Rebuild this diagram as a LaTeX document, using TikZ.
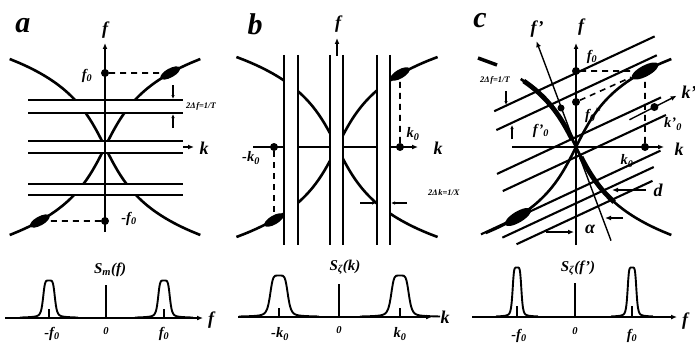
\documentclass[tikz,border=0pt]{standalone}
\usepackage{fontspec}
\setmainfont{Liberation Serif}
\usepackage{tikz}
\usetikzlibrary{positioning,arrows.meta,calc,shapes.geometric}

\tikzset{
  branch/.style={line width=2.6pt},
  thickbranch/.style={line width=4.8pt},
  strip/.style={line width=2.1pt},
  axisline/.style={line width=1.4pt},
  specline/.style={line width=2pt},
  guide/.style={line width=1.6pt,dash pattern=on 6pt off 5pt},
  dot/.style={circle,fill,inner sep=0pt,minimum size=8pt},
  blob/.style={ellipse,fill,inner sep=0pt,minimum width=22pt,minimum height=9pt},
  bigblob/.style={blob,minimum width=30pt,minimum height=11pt},
  lab/.style={inner sep=0pt,font=\bfseries\itshape\fontsize{14.5}{14.5}\selectfont},
  speclab/.style={inner sep=0pt,font=\bfseries\itshape\fontsize{15}{15}\selectfont},
  zerolab/.style={inner sep=0pt,font=\bfseries\itshape\fontsize{10.5}{10.5}\selectfont},
  axlab/.style={inner sep=0pt,font=\bfseries\itshape\fontsize{18}{18}\selectfont},
  smalllab/.style={inner sep=0pt,font=\bfseries\itshape\fontsize{8.5}{8.5}\selectfont},
  panel/.style={inner sep=0pt,font=\bfseries\itshape\fontsize{30}{30}\selectfont},
  peak/.style={line width=1.9pt,line join=round},
  small arrow/.style={line width=1.1pt,-{Latex[length=4pt,width=3.5pt]}},
}
\newcommand{\zs}[1]{\textsubscript{#1}}

\begin{document}
\begin{tikzpicture}[x=1pt,y=-1pt,>={Latex[length=6pt,width=5pt]}]
  \useasboundingbox (0,0) rectangle (695,353);

  % a
  \draw[branch] plot[smooth,domain=-88:88,samples=45] ({105+19*sinh(\x/38)},{147-(\x)});
  \draw[branch] plot[smooth,domain=-88:88,samples=45] ({105-19*sinh(\x/38)},{147-(\x)});
  \draw[axisline,->] (28,147) -- (194,147);
  \foreach \ya/\yb in {100/113,141/153,184/195}{
    \fill[white] (28,\ya) rectangle (183,\yb);
    \draw[strip] (28,\ya) -- (183,\ya) (28,\yb) -- (183,\yb);
  }
  \draw[axisline,->] (105,232) -- (105,43);
  \node[dot] (fa) at (105,73) {};
  \node[dot] (mfa) at (105,221) {};
  \node[blob,rotate=29] (ba) at (170.2,73) {};
  \node[blob,rotate=29] (mba) at (39.8,221) {};
  \draw[guide] (fa) -- (ba);
  \draw[guide] (mfa) -- (mba);
  \draw[small arrow] (173,85) -- (173,99);
  \draw[small arrow] (173,128) -- (173,114);
  \node[panel] (pa) at (23,26) {a};
  \node[axlab] (fla) at (105,30) {f};
  \node[axlab] (kla) at (204,148) {k};
  \node[lab] (f0a) at (87,76) {f\zs{0}};
  \node[lab] (mf0a) at (129,219) {-f\zs{0}};
  \node[smalllab,anchor=west] (dfa) at (186,106) {2Δ\kern.5pt f=1/T};

  % b
  \draw[branch] plot[smooth,domain=-90:90,samples=45] ({337+19*sinh(\x/38)},{147-(\x)});
  \draw[branch] plot[smooth,domain=-90:90,samples=45] ({337-19*sinh(\x/38)},{147-(\x)});
  \draw[axisline,->] (253,147) -- (418,147);
  \foreach \xa/\xb in {284/298,330/343,377/390}{
    \fill[white] (\xa,55) rectangle (\xb,245);
    \draw[strip] (\xa,55) -- (\xa,245) (\xb,55) -- (\xb,245);
  }
  \draw[axisline,->] (337,56) -- (337,38);
  \node[dot] (kb) at (400,147) {};
  \node[dot] (mkb) at (274,147) {};
  \node[blob,rotate=30] (bb) at (400,74) {};
  \node[blob,rotate=30] (mbb) at (274,220) {};
  \draw[guide] (kb) -- (bb);
  \draw[guide] (mkb) -- (mbb);
  \draw[small arrow] (360,203) -- (376,203);
  \draw[small arrow] (407,203) -- (391,203);
  \node[panel] (pb) at (255,24) {b};
  \node[axlab] (flb) at (338,24) {f};
  \node[axlab] (klb) at (438,148) {k};
  \node[lab] (k0b) at (413,134) {k\zs{0}};
  \node[lab] (mk0b) at (251,158) {-k\zs{0}};
  \node[smalllab,anchor=west] (dkb) at (428,193) {2Δ\kern.5pt k=1/X};

  % c
  \draw[branch] plot[smooth,domain=-86:88,samples=45] ({576+19*sinh(\x/38)},{147-(\x)});
  \draw[branch] plot[smooth,domain=-88:68,samples=45] ({576-19*sinh(\x/38)},{147-(\x)});
  \draw[thickbranch] plot[smooth,domain=8:66,samples=21] ({576-19*sinh(\x/38)},{147-(\x)});
  \draw[thickbranch] plot[smooth,domain=-55:-10,samples=21] ({576-19*sinh(\x/38)},{147-(\x)});
  \begin{scope}[shift={(576,147)},rotate=25]
    \foreach \v/\ua/\ub in {-67/-59/118,-49/-65/112,-9/-83/98,9/-85/95,39/-123/75,51/-105/62,63/-95/55}
      \draw[strip] (\ua,\v) -- (\ub,\v);
  \end{scope}
  \begin{scope}[shift={(576,147)},rotate=27]
    \draw[axisline,->] (60,0) -- (113,0);
    \node[dot] (kpc) at (88,0) {};
  \end{scope}
  \begin{scope}[shift={(576,147)},rotate=20.5]
    \draw[axisline,->] (0,100) -- (0,-113);
  \end{scope}
  \draw[axisline,->] (512,147) -- (664,147);
  \draw[axisline,->] (576,245) -- (576,43);
  \node[dot] (fc) at (576,71) {};
  \node[dot] (fsc) at (576,102) {};
  \node[dot,minimum size=7pt] (fpc) at (561,108) {};
  \node[dot] (kc) at (645,147) {};
  \node[bigblob,rotate=28] (bc) at (645,71) {};
  \node[bigblob,rotate=31] (mbc) at (518,217) {};
  \draw[guide] (fc) -- (bc);
  \draw[guide] (kc) -- (bc);
  \draw[guide] (fsc) -- (bc);
  \draw[line width=3.5pt] (478,58) -- (497,65);
  \draw[small arrow] (506,91) -- (506,105);
  \draw[small arrow] (512,139) -- (512,125);
  \draw[->,line width=1.2pt] (646,190) -- (612,190);
  \draw[->,line width=1.2pt] (546,232) -- (574,232);
  \draw[->,line width=1.2pt] (623,218) -- (605,218);
  \node[panel] (pc) at (480,21) {c};
  \node[axlab] (fpl) at (537,29) {f'};
  \node[axlab] (flc) at (581,27) {f};
  \node[axlab] (klc) at (679,149) {k};
  \node[axlab] (kpl) at (689,92) {k'};
  \node[lab] (f0c) at (592,57) {f\zs{0}};
  \node[lab] (fs0c) at (593,115) {f\zs{0}\textsuperscript{*}};
  \node[lab] (fp0c) at (541,131) {f'\zs{0}};
  \node[lab] (kp0c) at (673,124) {k'\zs{0}};
  \node[lab] (k0c) at (627,161) {k\zs{0}};
  \node[axlab] (dc) at (658,190) {d};
  \node[axlab] (alc) at (590,229) {α};
  \node[smalllab] (dfc) at (495,80) {2Δ\kern.5pt f=1/T};

  % spectra
  \draw[specline,->] (5,318) -- (203,318);
  \draw[specline] (106,318) -- (106,285);
  \foreach \c in {49,164}{
    \draw[peak] plot[smooth,domain=-29:29,samples=59] ({\c+\x},{318-35/(1+((\x/6)^2)^3)-2.5/(1+(\x/14)^2)});
    \draw[specline] (\c,318) -- (\c,309);
  }
  \node[axlab] (sfa) at (211,320) {f};
  \node[speclab] (sma) at (110,270) {S\zs{m}(f)};
  \node[lab] (smf0) at (52,334) {-f\zs{0}};
  \node[zerolab] (sza) at (106,331) {0};
  \node[lab] (spf0) at (164,334) {f\zs{0}};

  \draw[specline,->] (238,317) -- (432,317);
  \draw[specline] (339,317) -- (339,284);
  \foreach \c in {279,400}{
    \draw[peak] plot[smooth,domain=-40:40,samples=61] ({\c+\x},{317-39/(1+((\x/9)^2)^3)-2.5/(1+(\x/20)^2)});
    \draw[specline] (\c,317) -- (\c,308);
  }
  \node[axlab] (skb) at (445,317) {k};
  \node[speclab] (szb) at (345,267) {S\zs{ζ}(k)};
  \node[lab] (smk0) at (280,334) {-k\zs{0}};
  \node[zerolab] (szb0) at (339,330) {0};
  \node[lab] (spk0) at (400,334) {k\zs{0}};

  \draw[specline,->] (472,317) -- (677,317);
  \draw[specline] (575,317) -- (575,283);
  \foreach \c in {517,632}{
    \draw[peak] plot[smooth,domain=-21:21,samples=57] ({\c+\x},{317-47/(1+((\x/4.5)^2)^3)-2.5/(1+(\x/11)^2)});
    \draw[specline] (\c,317) -- (\c,306);
  }
  \node[axlab] (sfc) at (685,321) {f};
  \node[speclab] (szc) at (578,268) {S\zs{ζ}(f')};
  \node[lab] (smf0c) at (519,336) {-f\zs{0}};
  \node[zerolab] (szc0) at (575,331) {0};
  \node[lab] (spf0c) at (632,336) {f\zs{0}};
\end{tikzpicture}
\end{document}
